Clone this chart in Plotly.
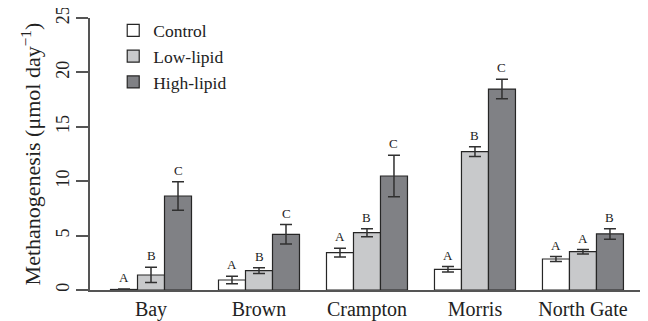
import plotly.graph_objects as go

sites = ["Bay", "Brown", "Crampton", "Morris", "North Gate"]
series = ["Control", "Low-lipid", "High-lipid"]
control = [0.05, 0.92, 3.43, 1.90, 2.85]
control_err = [0.05, 0.35, 0.40, 0.25, 0.22]
low = [1.38, 1.78, 5.27, 12.71, 3.52]
low_err = [0.70, 0.27, 0.37, 0.45, 0.20]
high = [8.64, 5.12, 10.48, 18.47, 5.15]
high_err = [1.30, 0.90, 1.90, 0.90, 0.48]
letters_control = ["A", "A", "A", "A", "A"]
letters_low = ["B", "B", "B", "B", "A"]
letters_high = ["C", "C", "C", "C", "B"]

colors = ["#ffffff", "#c8c9cb", "#808185"]
vals = [control, low, high]
errs = [control_err, low_err, high_err]
lets = [letters_control, letters_low, letters_high]

font = "Liberation Serif, Times New Roman, serif"
fig = go.Figure()
for name, v, e, c in zip(series, vals, errs, colors):
    fig.add_trace(go.Bar(
        name=name, x=sites, y=v,
        marker=dict(color=c, line=dict(color="#262626", width=1.2)),
        error_y=dict(type="data", array=e, visible=True, color="#303030", thickness=1.5, width=6),
    ))

# letters as annotations above error bars
offsets = [-1, 0, 1]
for k, (v, e, l) in enumerate(zip(vals, errs, lets)):
    for i in range(len(sites)):
        fig.add_annotation(
            x=i + offsets[k] * 0.25, y=v[i] + e[i], xref="x", yref="y",
            text=l[i], showarrow=False, yanchor="bottom", yshift=2,
            font=dict(family=font, size=13, color="#222222"),
        )

fig.update_layout(
    width=640, height=313,
    margin=dict(l=82, r=5, t=10, b=31),
    paper_bgcolor="white", plot_bgcolor="white",
    barmode="group", bargap=0.25, bargroupgap=0,
    font=dict(family=font, color="#222222"),
    showlegend=True,
    legend=dict(x=0.042, y=1.02, xanchor="left", yanchor="top",
                font=dict(family=font, size=17.5, color="#222222"),
                bgcolor="rgba(0,0,0,0)", tracegroupgap=0, itemwidth=30),
    xaxis=dict(
        range=[-0.565, 4.556], showline=True, linecolor="#555555", linewidth=1.5,
        ticks="", showgrid=False, zeroline=False,
        tickfont=dict(family=font, size=20, color="#222222"), automargin=False,
        type="category",
    ),
    yaxis=dict(
        range=[0, 25], tickvals=[0, 5, 10, 15, 20, 25], showline=True,
        linecolor="#555555", linewidth=1.5, ticks="outside", ticklen=12,
        tickcolor="#555555", tickwidth=1.5, showgrid=False, zeroline=False,
        tickangle=-90, tickfont=dict(family=font, size=18, color="#222222"),
        ticklabeloverflow="allow",
        title=dict(text="Methanogenesis (μmol day<sup>−1</sup>)",
                   font=dict(family=font, size=22, color="#222222"), standoff=6),
        automargin=False,
    ),
)
fig.write_html("out.html")
